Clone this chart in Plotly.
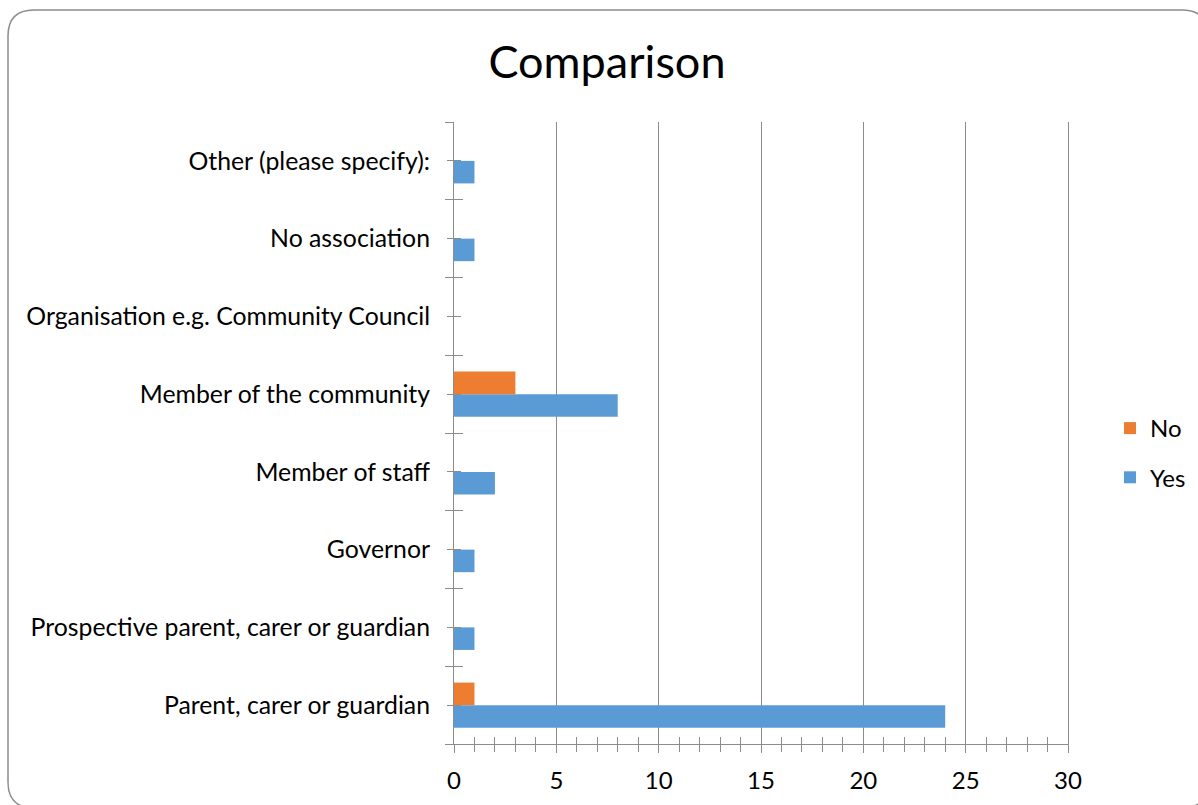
import plotly.graph_objects as go

# Data (bottom to top, as displayed)
categories = [
    "Parent, carer or guardian",
    "Prospective parent, carer or guardian",
    "Governor",
    "Member of staff",
    "Member of the community",
    "Organisation e.g. Community Council",
    "No association",
    "Other (please specify):",
]
yes_values = [24, 1, 1, 2, 8, 0, 1, 1]
no_values = [1, 0, 0, 0, 3, 0, 0, 0]
x_ticks = [0, 5, 10, 15, 20, 25, 30]

positions = list(range(len(categories)))

FONT = "Lato"
GRID = "#8c8c8c"

fig = go.Figure()
fig.add_trace(go.Bar(
    y=positions, x=yes_values, name="Yes", orientation="h",
    marker=dict(color="#5B9BD5", line=dict(width=0)), legendgroup="yes",
    legendrank=2,
))
fig.add_trace(go.Bar(
    y=positions, x=no_values, name="No", orientation="h",
    marker=dict(color="#ED7D31", line=dict(width=0)), legendgroup="no",
    legendrank=1,
))

# Pixel geometry of plot area
W, H = 1198, 805
L, R, T, B = 454, 1068, 122, 744
pw, ph = R - L, B - T


def px(xp):
    return (xp - L) / pw


def py(yp):
    return (B - yp) / ph


# Rounded border
x0, y0, x1, y1, r = 8, 10, 1208, 808, 26
path = (
    f"M {px(x0 + r)} {py(y0)} L {px(x1 - r)} {py(y0)} "
    f"Q {px(x1)} {py(y0)} {px(x1)} {py(y0 + r)} "
    f"L {px(x1)} {py(y1 - r)} Q {px(x1)} {py(y1)} {px(x1 - r)} {py(y1)} "
    f"L {px(x0 + r)} {py(y1)} Q {px(x0)} {py(y1)} {px(x0)} {py(y1 - r)} "
    f"L {px(x0)} {py(y0 + r)} Q {px(x0)} {py(y0)} {px(x0 + r)} {py(y0)} Z"
)

fig.update_layout(
    width=W, height=H, autosize=False,
    margin=dict(l=L, r=W - R, t=T, b=H - B, pad=0, autoexpand=False),
    paper_bgcolor="white", plot_bgcolor="white",
    barmode="group", bargap=0.42, bargroupgap=0,
    title=dict(text="Comparison", x=607 / W, xanchor="center",
               y=1 - 62 / H, yanchor="middle",
               font=dict(family=FONT, size=45, color="#000000")),
    font=dict(family=FONT, size=24, color="#000000"),
    legend=dict(xref="container", yref="container",
                x=1110 / W, y=1 - 453 / H, xanchor="left", yanchor="middle",
                traceorder="grouped", tracegroupgap=15,
                font=dict(family=FONT, size=24, color="#000000"),
                bgcolor="rgba(0,0,0,0)"),
    xaxis=dict(range=[0, 30], tickvals=x_ticks, showgrid=True,
               gridcolor=GRID, gridwidth=1, zeroline=False, showline=True,
               linecolor=GRID, ticks="outside", ticklen=8, tickcolor=GRID,
               minor=dict(dtick=1, tick0=0, ticks="outside", ticklen=7,
                          tickcolor=GRID, showgrid=False),
               ticklabelstandoff=7, automargin=False,
               tickfont=dict(family=FONT, size=24, color="#000000")),
    xaxis2=dict(range=[0, 30], overlaying="x", anchor="y", side="bottom",
                showgrid=False, zeroline=False, showticklabels=False,
                ticks="", minor=dict(dtick=1, tick0=0, ticks="inside",
                                     ticklen=7, tickcolor=GRID, showgrid=False)),
    yaxis=dict(range=[-0.5, len(categories) - 0.5], tickvals=positions,
               ticktext=categories, showgrid=False, zeroline=False,
               showline=True, mirror=True, linecolor=GRID, ticks="outside",
               ticklen=6, tickcolor=GRID, ticklabelstandoff=12,
               automargin=False,
               minor=dict(tick0=0.5, dtick=1, ticks="outside", ticklen=8,
                          tickcolor=GRID, showgrid=False),
               tickfont=dict(family=FONT, size=24.8, color="#000000")),
    yaxis2=dict(range=[-0.5, len(categories) - 0.5], overlaying="y",
                anchor="x", side="left", showgrid=False, zeroline=False,
                showticklabels=False, tickvals=positions, ticks="inside",
                ticklen=7, tickcolor=GRID,
                minor=dict(tick0=0.5, dtick=1, ticks="inside", ticklen=9,
                           tickcolor=GRID, showgrid=False)),
    shapes=[dict(type="path", path=path, xref="paper", yref="paper",
                 line=dict(color="#8c8c8c", width=1.5), layer="above")],
)

# invisible helpers to activate overlay axes
fig.add_trace(go.Scatter(x=[None], y=[None], xaxis="x2", yaxis="y",
                         showlegend=False, hoverinfo="skip"))
fig.add_trace(go.Scatter(x=[None], y=[None], xaxis="x", yaxis="y2",
                         showlegend=False, hoverinfo="skip"))

fig.write_html(
    "out.html",
    config={"displayModeBar": False},
    post_script="document.body.style.margin='0';document.body.style.overflow='hidden';",
)
